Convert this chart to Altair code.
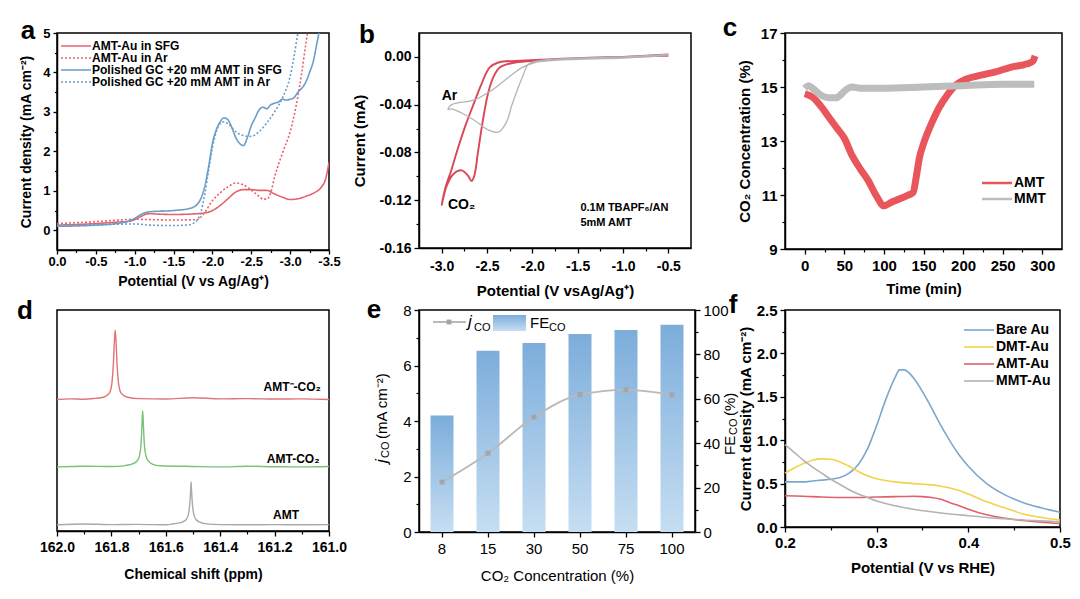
import altair as alt
import pandas as pd

FONT = "Liberation Sans"
MINUS = "\u2212"
NBSP = "\u00a0"

# ---------------- panel a ----------------
a_names = ["AMT-Au in SFG", "AMT-Au in Ar", "Polished GC +20 mM AMT in SFG", "Polished GC +20 mM AMT in Ar"]
a1_x = [0.0, -0.5, -0.8, -0.9, -1.0, -1.1, -1.15, -1.2, -1.3, -1.5, -1.7, -1.9, -2.0, -2.1, -2.2, -2.3, -2.4, -2.5, -2.6, -2.7, -2.8, -2.9, -3.0, -3.1, -3.2, -3.3, -3.4, -3.45, -3.5]
a1_y = [0.13, 0.17, 0.21, 0.22, 0.27, 0.37, 0.41, 0.42, 0.41, 0.40, 0.41, 0.44, 0.50, 0.63, 0.80, 0.97, 1.03, 1.03, 1.01, 1.01, 0.92, 0.84, 0.78, 0.80, 0.86, 0.94, 1.09, 1.26, 1.72]
a2_x = [0.0, -0.5, -0.8, -1.0, -1.2, -1.5, -1.8, -1.85, -1.9, -2.0, -2.1, -2.2, -2.3, -2.4, -2.5, -2.6, -2.65, -2.7, -2.75, -2.8, -2.9, -3.0, -3.05, -3.1, -3.15, -3.2, -3.25]
a2_y = [0.17, 0.22, 0.26, 0.28, 0.27, 0.26, 0.27, 0.33, 0.45, 0.75, 0.95, 1.10, 1.20, 1.15, 1.02, 0.86, 0.79, 0.79, 0.95, 1.35, 1.95, 2.50, 2.90, 3.40, 4.00, 4.70, 5.30]
a3_x = [0.0, -0.5, -0.8, -0.9, -1.0, -1.1, -1.2, -1.5, -1.7, -1.8, -1.85, -1.9, -1.95, -2.0, -2.05, -2.1, -2.15, -2.2, -2.25, -2.3, -2.35, -2.4, -2.45, -2.5, -2.55, -2.6, -2.65, -2.7, -2.75, -2.8, -2.85, -2.9, -2.95, -3.0, -3.05, -3.1, -3.15, -3.2, -3.25, -3.3, -3.35, -3.4]
a3_y = [0.10, 0.13, 0.18, 0.22, 0.30, 0.42, 0.47, 0.50, 0.55, 0.65, 0.80, 1.10, 1.60, 2.20, 2.55, 2.75, 2.85, 2.80, 2.60, 2.35, 2.20, 2.15, 2.35, 2.65, 2.85, 3.05, 3.12, 3.08, 3.18, 3.22, 3.25, 3.32, 3.30, 3.32, 3.36, 3.50, 3.60, 3.75, 4.00, 4.30, 4.80, 5.30]
a4_x = [0.0, -0.5, -1.0, -1.2, -1.5, -1.7, -1.8, -1.85, -1.9, -1.95, -2.0, -2.05, -2.1, -2.15, -2.2, -2.3, -2.4, -2.5, -2.6, -2.7, -2.8, -2.9, -3.0, -3.05, -3.1, -3.13]
a4_y = [0.12, 0.14, 0.16, 0.13, 0.12, 0.14, 0.25, 0.45, 0.90, 1.50, 2.10, 2.50, 2.70, 2.75, 2.70, 2.50, 2.40, 2.38, 2.50, 2.72, 3.00, 3.35, 3.90, 4.40, 5.00, 5.30]
a_xticks = [0.0, -0.5, -1.0, -1.5, -2.0, -2.5, -3.0, -3.5]
a_xminor = [-0.25, -0.75, -1.25, -1.75, -2.25, -2.75, -3.25]
a_yticks = [0, 1, 2, 3, 4, 5]
a_yminor = [0.5, 1.5, 2.5, 3.5, 4.5]

# ---------------- panel b ----------------
b_names = ["CO2", "Ar"]
b_co2_x = [-0.5, -1.0, -1.5, -1.9, -2.19, -2.36, -2.43, -2.49, -2.545, -2.60, -2.64, -2.67, -2.71, -2.78, -2.87, -2.945, -3.0, -2.96, -2.89, -2.835, -2.74, -2.65, -2.56, -2.47, -2.375, -2.08, -1.5, -1.0, -0.5]
b_co2_y = [0.001, 0.0, -0.001, -0.003, -0.0047, -0.0088, -0.017, -0.031, -0.053, -0.080, -0.0995, -0.104, -0.0995, -0.095, -0.098, -0.108, -0.124, -0.110, -0.094, -0.080, -0.058, -0.040, -0.0225, -0.0088, -0.0047, -0.003, -0.001, 0.0, 0.002]
b_ar_x = [-0.5, -1.0, -1.5, -1.9, -2.04, -2.11, -2.22, -2.29, -2.375, -2.49, -2.64, -2.78, -2.89, -2.93, -2.89, -2.64, -2.45, -2.26, -2.11, -1.97, -1.5, -1.0, -0.5]
b_ar_y = [0.002, 0.0, -0.001, -0.003, -0.006, -0.017, -0.039, -0.0555, -0.063, -0.061, -0.053, -0.047, -0.0435, -0.044, -0.040, -0.036, -0.028, -0.017, -0.0088, -0.0047, -0.002, -0.001, 0.001]
b_xticks = [-3.0, -2.5, -2.0, -1.5, -1.0, -0.5]
b_xminor = [-2.75, -2.25, -1.75, -1.25, -0.75]
b_yticks = [-0.16, -0.12, -0.08, -0.04, 0.0]
b_yminor = [-0.14, -0.10, -0.06, -0.02]
b_labels = ["Ar", "CO₂", "0.1M TBAPF₆/AN", "5mM AMT"]
b_label_x = [-3.0, -2.93, -1.47, -1.47]
b_label_y = [-0.033, -0.124, -0.1265, -0.139]
b_label_size = [14, 14, 11, 11]

# ---------------- panel c ----------------
c_names = ["AMT", "MMT"]
c_amt_t = [0, 10, 20, 30, 40, 50, 60, 70, 80, 90, 100, 110, 120, 130, 137, 141, 145, 150, 160, 170, 180, 190, 200, 220, 240, 260, 280, 288, 291]
c_amt_v = [14.75, 14.62, 14.3, 13.9, 13.5, 13.1, 12.45, 11.97, 11.54, 10.99, 10.6, 10.74, 10.86, 10.99, 11.1, 11.7, 12.4, 12.9, 13.64, 14.25, 14.7, 15.05, 15.24, 15.42, 15.55, 15.73, 15.85, 15.95, 16.15]
c_mmt_t = [0, 5, 10, 20, 30, 40, 45, 50, 60, 70, 100, 150, 200, 250, 290]
c_mmt_v = [14.95, 15.05, 14.95, 14.7, 14.6, 14.6, 14.7, 14.85, 15.0, 14.95, 14.95, 15.0, 15.05, 15.1, 15.1]
c_xticks = [0, 50, 100, 150, 200, 250, 300]
c_xminor = [25, 75, 125, 175, 225, 275]
c_yticks = [9, 11, 13, 15, 17]
c_yminor = [10, 12, 14, 16]

# ---------------- panel d ----------------
d_red_x = [162.00, 161.95, 161.90, 161.86, 161.83, 161.815, 161.805, 161.798, 161.793, 161.789, 161.786, 161.783, 161.779, 161.774, 161.767, 161.757, 161.74, 161.70, 161.60, 161.50, 161.40, 161.30, 161.20, 161.10, 161.00]
d_red_y = [59.5, 59.8, 59.6, 60.0, 60.5, 61.5, 63.0, 67.0, 75.0, 86.0, 90.9, 86.0, 75.0, 67.0, 63.0, 61.5, 60.5, 59.9, 59.7, 60.3, 59.8, 59.9, 59.7, 59.8, 59.5]
d_green_x = [162.00, 161.90, 161.80, 161.75, 161.72, 161.705, 161.697, 161.692, 161.689, 161.687, 161.685, 161.683, 161.681, 161.678, 161.673, 161.665, 161.65, 161.62, 161.50, 161.40, 161.30, 161.20, 161.10, 161.00]
d_green_y = [29.0, 29.3, 29.2, 29.6, 30.5, 31.8, 34.0, 38.0, 44.0, 50.0, 54.3, 50.0, 44.0, 38.0, 34.0, 31.8, 30.3, 29.5, 29.2, 29.0, 29.3, 29.1, 29.0, 29.2]
d_gray_x = [162.00, 161.90, 161.80, 161.70, 161.60, 161.57, 161.54, 161.525, 161.517, 161.512, 161.509, 161.507, 161.505, 161.502, 161.497, 161.489, 161.475, 161.45, 161.40, 161.30, 161.20, 161.10, 161.00]
d_gray_y = [2.8, 3.2, 2.9, 3.0, 2.8, 3.3, 4.0, 5.2, 7.5, 12.0, 17.5, 22.3, 17.5, 12.0, 7.5, 5.2, 4.0, 3.2, 2.9, 2.8, 2.9, 2.8, 2.9]
d_names = ["AMT⁻-CO₂", "AMT-CO₂", "AMT"]
d_label_x = [161.03, 161.035, 161.11]
d_label_y = [65.3, 32.8, 7.2]
d_xticks = [162.0, 161.8, 161.6, 161.4, 161.2, 161.0]
d_xminor = [161.9, 161.7, 161.5, 161.3, 161.1]

# ---------------- panel e ----------------
e_conc = ["8", "15", "30", "50", "75", "100"]
e_fe = [52.5, 81.7, 85.1, 89.2, 91.0, 93.4]
e_j = [1.80, 2.84, 4.14, 4.95, 5.12, 4.94]
e_lticks = [0, 2, 4, 6, 8]
e_lminor = [1, 3, 5, 7]
e_rticks = [0, 20, 40, 60, 80, 100]
e_rminor = [10, 30, 50, 70, 90]

# ---------------- panel f ----------------
f_names = ["Bare Au", "DMT-Au", "AMT-Au", "MMT-Au"]
f_bare_x = [0.20, 0.21, 0.22, 0.23, 0.24, 0.25, 0.26, 0.27, 0.28, 0.29, 0.30, 0.31, 0.32, 0.325, 0.33, 0.34, 0.35, 0.36, 0.37, 0.38, 0.39, 0.40, 0.42, 0.44, 0.46, 0.48, 0.50]
f_bare_y = [0.52, 0.52, 0.52, 0.53, 0.54, 0.55, 0.57, 0.62, 0.72, 0.90, 1.17, 1.47, 1.72, 1.81, 1.81, 1.72, 1.56, 1.37, 1.17, 0.99, 0.83, 0.70, 0.50, 0.37, 0.28, 0.22, 0.17]
f_dmt_x = [0.20, 0.21, 0.22, 0.23, 0.24, 0.25, 0.26, 0.27, 0.28, 0.29, 0.30, 0.31, 0.32, 0.34, 0.36, 0.37, 0.38, 0.39, 0.40, 0.42, 0.44, 0.46, 0.48, 0.50]
f_dmt_y = [0.62, 0.68, 0.73, 0.77, 0.785, 0.78, 0.75, 0.70, 0.64, 0.59, 0.555, 0.535, 0.52, 0.50, 0.485, 0.47, 0.45, 0.42, 0.38, 0.29, 0.22, 0.15, 0.11, 0.08]
f_amt_x = [0.20, 0.22, 0.24, 0.26, 0.28, 0.30, 0.32, 0.34, 0.35, 0.36, 0.37, 0.38, 0.39, 0.40, 0.42, 0.44, 0.46, 0.48, 0.50]
f_amt_y = [0.36, 0.355, 0.345, 0.34, 0.34, 0.345, 0.35, 0.355, 0.35, 0.34, 0.32, 0.28, 0.245, 0.205, 0.14, 0.10, 0.075, 0.055, 0.04]
f_mmt_x = [0.20, 0.21, 0.22, 0.23, 0.24, 0.25, 0.26, 0.27, 0.28, 0.29, 0.30, 0.32, 0.34, 0.36, 0.38, 0.40, 0.42, 0.44, 0.46, 0.48, 0.50]
f_mmt_y = [0.95, 0.86, 0.77, 0.69, 0.62, 0.55, 0.49, 0.43, 0.38, 0.34, 0.30, 0.245, 0.205, 0.175, 0.15, 0.13, 0.11, 0.095, 0.08, 0.07, 0.06]
f_xticks = [0.2, 0.3, 0.4, 0.5]
f_xminor = [0.25, 0.35, 0.45]
f_yticks = [0.0, 0.5, 1.0, 1.5, 2.0, 2.5]
f_yminor = [0.25, 0.75, 1.25, 1.75, 2.25]


# ---------------- helpers ----------------
def series_df(names, xs_list, ys_list):
    rows = []
    for n, xs, ys in zip(names, xs_list, ys_list):
        for i, (x, y) in enumerate(zip(xs, ys)):
            rows.append({"s": n, "x": x, "y": y, "o": i})
    return pd.DataFrame(rows)


def main_axis(orient, values, title, size, tsize, fmt=None, weight="bold", **kw):
    d = dict(orient=orient, title=title, labelFontSize=size, labelFontWeight=weight,
             titleFontSize=tsize, titleFontWeight=weight, labelColor="black", titleColor="black",
             domainColor="black", domainWidth=1.5, tickColor="black", tickWidth=1.3, tickSize=5,
             grid=False, labelFont=FONT, titleFont=FONT, labelFlush=False, labelOverlap=False)
    if values is not None:
        d["values"] = values
    if fmt:
        d["labelExpr"] = "replace(format(datum.value, '%s'), '%s', '-')" % (fmt, MINUS)
    d.update(kw)
    return alt.Axis(**d)


def minor_axis(orient, values, size=3):
    return alt.Axis(orient=orient, values=values, labels=False, tickSize=size, tickWidth=1.2,
                    tickColor="black", domain=False, title=None, grid=False)


def line_legend(x, y, size, rowpad, sw=1.6):
    return alt.Legend(title=None, orient="none", legendX=x, legendY=y, symbolType="M-5,0H5",
                      symbolSize=36, symbolOffset=11, labelOffset=10, labelFontSize=size,
                      labelFontWeight="bold", labelFont=FONT, labelColor="black", rowPadding=rowpad,
                      symbolStrokeWidth=sw, labelLimit=400, padding=0)


one = pd.DataFrame({"k": [0]})


def letter(t, x, y):
    return alt.Chart(one).mark_text(text=t, fontSize=26, fontWeight="bold", font=FONT,
                                    align="center", baseline="alphabetic", color="black").encode(
        x=alt.value(x), y=alt.value(y))


def piece(t, x, y, size, style="normal", weight="normal", angle=0, align="left", baseline="middle"):
    return alt.Chart(one).mark_text(text=t, fontSize=size, fontStyle=style, fontWeight=weight, font=FONT,
                                    angle=angle, align=align, baseline=baseline, color="black").encode(
        x=alt.value(x), y=alt.value(y))


# ---------------- panel a chart ----------------
RED_A, BLUE_A = "#E5646C", "#6A9DC8"
df_a = series_df(a_names, [a1_x, a2_x, a3_x, a4_x], [a1_y, a2_y, a3_y, a4_y])
a_xs = alt.Scale(domain=[-3.5, 0], reverse=True, nice=False, zero=False)
a_ys = alt.Scale(domain=[-0.5, 5], nice=False, zero=False)
a_lines = alt.Chart(df_a).mark_line(interpolate="monotone", clip=True, strokeWidth=1.6).encode(
    x=alt.X("x:Q", scale=a_xs, axis=main_axis("bottom", a_xticks, "Potential (V vs Ag/Ag⁺)", 13, 14, ".1f",
                                               tickSize=4, labelPadding=1, titlePadding=6)),
    y=alt.Y("y:Q", scale=a_ys, axis=main_axis("left", a_yticks, "Current density (mA cm⁻²)", 13, 14, "d",
                                               tickSize=4, labelPadding=3, titlePadding=9)),
    order="o:Q",
    color=alt.Color("s:N", scale=alt.Scale(domain=a_names, range=[RED_A, RED_A, BLUE_A, BLUE_A]),
                    legend=line_legend(2, 7, 12, 0)),
    strokeDash=alt.StrokeDash("s:N", scale=alt.Scale(domain=a_names, range=[[1, 0], [2, 2], [1, 0], [2, 2]])),
)
a_minor = alt.Chart(df_a).mark_point(opacity=0, clip=True).encode(
    x=alt.X("x:Q", scale=a_xs, axis=minor_axis("bottom", a_xminor, 2.5)),
    y=alt.Y("y:Q", scale=a_ys, axis=minor_axis("left", a_yminor, 2.5)))
panel_a = alt.layer(a_lines, a_minor, letter("a", -29, 6)).resolve_axis(
    x="independent", y="independent").properties(width=272, height=217)

# ---------------- panel b chart ----------------
df_b = series_df(b_names, [b_co2_x, b_ar_x], [b_co2_y, b_ar_y])
b_xs = alt.Scale(domain=[-3.25, -0.25], nice=False, zero=False)
b_ys = alt.Scale(domain=[-0.16, 0.02], nice=False, zero=False)
b_lines = alt.Chart(df_b).mark_line(interpolate="catmull-rom").encode(
    x=alt.X("x:Q", scale=b_xs, axis=main_axis("bottom", b_xticks, "Potential (V vsAg/Ag⁺)", 14, 15, ".1f",
                                               labelPadding=6, titlePadding=10)),
    y=alt.Y("y:Q", scale=b_ys, axis=main_axis("left", b_yticks, "Current (mA)", 14, 15, ".2f",
                                               labelPadding=3, titlePadding=12)),
    order="o:Q",
    color=alt.Color("s:N", scale=alt.Scale(domain=b_names, range=["#DA4656", "#B4B4B4"]), legend=None),
    strokeWidth=alt.StrokeWidth("s:N", scale=alt.Scale(domain=b_names, range=[1.9, 1.3]), legend=None),
)
b_minor = alt.Chart(df_b).mark_point(opacity=0).encode(
    x=alt.X("x:Q", scale=b_xs, axis=minor_axis("bottom", b_xminor)),
    y=alt.Y("y:Q", scale=b_ys, axis=minor_axis("left", b_yminor)))
df_b_lab = pd.DataFrame({"t": b_labels, "x": b_label_x, "y": b_label_y, "fs": b_label_size})
b_text = alt.Chart(df_b_lab).mark_text(align="left", baseline="middle", fontWeight="bold", font=FONT,
                                       color="black").encode(
    x=alt.X("x:Q", scale=b_xs, axis=None), y=alt.Y("y:Q", scale=b_ys, axis=None), text="t:N",
    size=alt.Size("fs:Q", scale=None, legend=None))
panel_b = alt.layer(b_lines, b_minor, b_text, letter("b", -52, 10)).resolve_axis(
    x="independent", y="independent").properties(width=272, height=215)

# ---------------- panel c chart ----------------
df_c = series_df(c_names, [c_amt_t, c_mmt_t], [c_amt_v, c_mmt_v])
c_xs = alt.Scale(domain=[-25, 325], nice=False, zero=False)
c_ys = alt.Scale(domain=[9, 17], nice=False, zero=False)
c_lines = alt.Chart(df_c).mark_line(interpolate="monotone").encode(
    x=alt.X("x:Q", scale=c_xs, axis=main_axis("bottom", c_xticks, "Time (min)", 15, 15, "d",
                                               labelPadding=4, titlePadding=8)),
    y=alt.Y("y:Q", scale=c_ys, axis=main_axis("left", c_yticks, "CO₂ Concentration (%)", 15, 15, "d",
                                               labelPadding=3, titlePadding=8)),
    order="o:Q",
    color=alt.Color("s:N", scale=alt.Scale(domain=c_names, range=["#E8555B", "#BDBDBD"]),
                    legend=line_legend(194, 143, 14, 2, sw=2.5)),
    strokeWidth=alt.value(7),
)
c_minor = alt.Chart(df_c).mark_point(opacity=0).encode(
    x=alt.X("x:Q", scale=c_xs, axis=minor_axis("bottom", c_xminor)),
    y=alt.Y("y:Q", scale=c_ys, axis=minor_axis("left", c_yminor)))
panel_c = alt.layer(c_lines, c_minor, letter("c", -55, 3)).resolve_axis(
    x="independent", y="independent").properties(width=277, height=216)

# ---------------- panel d chart ----------------
df_d = series_df(d_names, [d_red_x, d_green_x, d_gray_x], [d_red_y, d_green_y, d_gray_y])
d_xs = alt.Scale(domain=[161.0, 162.0], reverse=True, nice=False, zero=False)
d_ys = alt.Scale(domain=[0, 100], nice=False, zero=False)
d_lines = alt.Chart(df_d).mark_line(interpolate="monotone", strokeWidth=1.4).encode(
    x=alt.X("x:Q", scale=d_xs, axis=main_axis("bottom", d_xticks, "Chemical shift (ppm)", 14, 14, ".1f",
                                               labelPadding=4, titlePadding=13)),
    y=alt.Y("y:Q", scale=d_ys, axis=None),
    order="o:Q",
    color=alt.Color("s:N", scale=alt.Scale(domain=d_names, range=["#E27479", "#78C178", "#A9A9A9"]), legend=None),
)
d_minor = alt.Chart(df_d).mark_point(opacity=0).encode(
    x=alt.X("x:Q", scale=d_xs, axis=minor_axis("bottom", d_xminor)),
    y=alt.Y("y:Q", scale=d_ys, axis=None))
df_d_lab = pd.DataFrame({"t": d_names, "x": d_label_x, "y": d_label_y})
d_text = alt.Chart(df_d_lab).mark_text(align="right", baseline="middle", fontWeight="bold", font=FONT,
                                       fontSize=12, color="black").encode(
    x=alt.X("x:Q", scale=d_xs, axis=None), y=alt.Y("y:Q", scale=d_ys, axis=None), text="t:N")
panel_d = alt.layer(d_lines, d_minor, d_text, letter("d", -32, 9)).resolve_axis(
    x="independent", y="independent").properties(width=272, height=221)

# ---------------- panel e chart ----------------
df_e = pd.DataFrame({"conc": e_conc, "fe": e_fe, "j": e_j})
W_E, H_E = 276, 222
grad = alt.Gradient(gradient="linear",
                    stops=[alt.GradientStop(color="#7CADDB", offset=0),
                           alt.GradientStop(color="#C6DEF2", offset=1)],
                    x1=0, x2=0, y1=0, y2=1)
e_x = alt.X("conc:N", sort=e_conc,
            scale=alt.Scale(domain=e_conc, paddingInner=0.5, paddingOuter=0.25),
            axis=main_axis("bottom", None, "CO₂ Concentration (%)", 15, 15, weight="normal",
                           labelAngle=0, labelPadding=4, titlePadding=12))
e_fe_s = alt.Scale(domain=[0, 100], nice=False, zero=True)
e_j_s = alt.Scale(domain=[0, 8], nice=False, zero=True)
e_bars = alt.Chart(df_e).mark_bar(color=grad).encode(
    x=e_x, y=alt.Y("fe:Q", scale=e_fe_s, axis=main_axis("right", e_rticks, None, 15, 15, "d", weight="normal",
                                                         labelPadding=3)))
e_bars_minor = alt.Chart(df_e).mark_point(opacity=0).encode(
    x=e_x, y=alt.Y("fe:Q", scale=e_fe_s, axis=minor_axis("right", e_rminor)))
e_right = alt.layer(e_bars, e_bars_minor).resolve_axis(y="independent")
e_line = alt.Chart(df_e).mark_line(interpolate="monotone", color="#B9B9B9", strokeWidth=1.8).encode(
    x=e_x, y=alt.Y("j:Q", scale=e_j_s, axis=main_axis("left", e_lticks, None, 15, 15, "d", weight="normal",
                                                       labelPadding=3)))
e_pts = alt.Chart(df_e).mark_point(shape="square", filled=True, size=24, color="#A5A5A5", opacity=1).encode(
    x=e_x, y=alt.Y("j:Q", scale=e_j_s, axis=None))
e_line_minor = alt.Chart(df_e).mark_point(opacity=0).encode(
    x=e_x, y=alt.Y("j:Q", scale=e_j_s, axis=minor_axis("left", e_lminor)))
e_left = alt.layer(e_line, e_pts, e_line_minor).resolve_axis(y="independent")
e_leg_line = alt.Chart(one).mark_rule(color="#B9B9B9", strokeWidth=1.8).encode(
    x=alt.value(14), x2=alt.value(47), y=alt.value(12))
e_leg_pt = alt.Chart(one).mark_point(shape="square", filled=True, size=24, color="#A5A5A5", opacity=1).encode(
    x=alt.value(30), y=alt.value(12))
e_leg_rect = alt.Chart(one).mark_rect(color=grad).encode(
    x=alt.value(74), x2=alt.value(107), y=alt.value(5), y2=alt.value(21))
e_annot = [
    e_leg_line, e_leg_pt, e_leg_rect,
    piece("j", 49, 17, 17, style="italic", baseline="alphabetic"),
    piece("CO", 55, 21, 11, baseline="alphabetic"),
    piece("FE", 111, 18, 15, baseline="alphabetic"),
    piece("CO", 130, 21, 11, baseline="alphabetic"),
    # left axis title (rotated)
    piece("j", -37, 153, 17, style="italic", angle=270),
    piece("CO", -33, 148, 11, angle=270),
    piece(NBSP + "(mA cm⁻²)", -37, 129, 15, angle=270),
    # right axis title (rotated)
    piece("FE", W_E + 35, 145, 15, angle=270),
    piece("CO", W_E + 39, 125, 11, angle=270),
    piece(NBSP + "(%)", W_E + 35, 106, 15, angle=270),
    letter("e", -45, 8),
]
panel_e = alt.layer(e_right, e_left, *e_annot).resolve_scale(y="independent").resolve_axis(
    y="independent").properties(width=W_E, height=H_E)

# ---------------- panel f chart ----------------
df_f = series_df(f_names, [f_bare_x, f_dmt_x, f_amt_x, f_mmt_x], [f_bare_y, f_dmt_y, f_amt_y, f_mmt_y])
f_xs = alt.Scale(domain=[0.2, 0.5], nice=False, zero=False)
f_ys = alt.Scale(domain=[0, 2.5], nice=False, zero=False)
f_lines = alt.Chart(df_f).mark_line(interpolate="monotone", strokeWidth=1.6).encode(
    x=alt.X("x:Q", scale=f_xs, axis=main_axis("bottom", f_xticks, "Potential (V vs RHE)", 15, 15, ".1f",
                                               labelPadding=3, titlePadding=10)),
    y=alt.Y("y:Q", scale=f_ys, axis=main_axis("left", f_yticks, "Current density (mA cm⁻²)", 15, 15, ".1f",
                                               labelPadding=3, titlePadding=3)),
    order="o:Q",
    color=alt.Color("s:N", scale=alt.Scale(domain=f_names, range=["#7BA7CF", "#F1D24A", "#E0606A", "#B3B3B3"]),
                    legend=line_legend(176, 13, 14, 3)),
)
f_minor = alt.Chart(df_f).mark_point(opacity=0).encode(
    x=alt.X("x:Q", scale=f_xs, axis=minor_axis("bottom", f_xminor)),
    y=alt.Y("y:Q", scale=f_ys, axis=minor_axis("left", f_yminor)))
panel_f = alt.layer(f_lines, f_minor, letter("f", -52, 3)).resolve_axis(
    x="independent", y="independent").properties(width=275, height=217)

chart = alt.concat(panel_a, panel_b, panel_c, panel_d, panel_e, panel_f, columns=3,
                   spacing={"row": 60, "column": 90}, bounds="flush", align="none").resolve_scale(
    color="independent", strokeDash="independent", strokeWidth="independent").properties(
    padding={"left": 8, "top": 6, "right": 0, "bottom": 0}, background="white"
).configure(font=FONT).configure_view(stroke="black", strokeWidth=1.5)

chart.save("out.html", embed_options={"renderer": "svg", "actions": False})
